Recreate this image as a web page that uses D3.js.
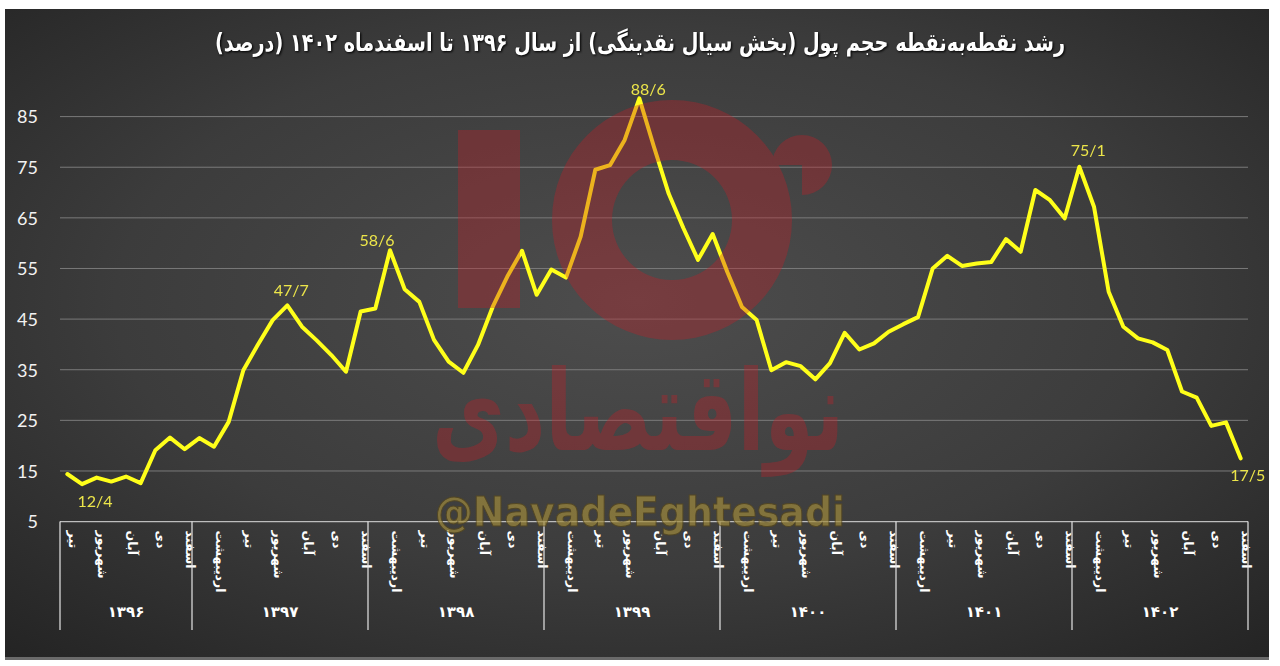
<!DOCTYPE html>
<html>
<head>
<meta charset="utf-8">
<script src="https://cdn.jsdelivr.net/npm/d3@7"></script>
<style>
  html, body { margin: 0; padding: 0; background: #ffffff; }
  svg { display: block; }
</style>
</head>
<body>
<svg id="chart" width="1280" height="666"></svg>
<script>
// ---------- DATA ----------
const title = "رشد نقطه‌به‌نقطه حجم پول (بخش سیال نقدینگی) از سال ۱۳۹۶ تا اسفندماه ۱۴۰۲ (درصد)";
const monthNames = ["فروردین","اردیبهشت","خرداد","تیر","مرداد","شهریور","مهر","آبان","آذر","دی","بهمن","اسفند"];
const years = ["۱۳۹۶","۱۳۹۷","۱۳۹۸","۱۳۹۹","۱۴۰۰","۱۴۰۱","۱۴۰۲"];
const firstMonth = 3; // series starts at تیر ۱۳۹۶
const values = [
  14.4, 12.4, 13.7, 12.9, 13.9, 12.6, 19.1, 21.6, 19.3,
  21.5, 19.8, 24.7, 34.9, 40.0, 44.8, 47.7, 43.5, 40.8, 37.9, 34.6, 46.5,
  47.1, 58.6, 50.9, 48.4, 40.9, 36.6, 34.4, 39.9, 47.4, 53.4, 58.5, 49.8,
  54.8, 53.2, 61.3, 74.5, 75.4, 80.4, 88.6, 79.0, 69.8, 63.0, 56.7, 61.8,
  54.3, 47.4, 44.8, 34.9, 36.5, 35.7, 33.1, 36.3, 42.3, 39.0, 40.2, 42.5,
  44.0, 45.4, 55.0, 57.5, 55.5, 56.0, 56.3, 60.8, 58.3, 70.5, 68.5, 64.9,
  75.1, 67.2, 50.4, 43.5, 41.2, 40.4, 38.9, 30.7, 29.5, 23.9, 24.6, 17.5
];
const yTicks = [5, 15, 25, 35, 45, 55, 65, 75, 85];
const labelIdx = [1, 15, 22, 39, 69, 80];
const labelText = ["12/4", "47/7", "58/6", "88/6", "75/1", "17/5"];

// ---------- BUILD CATEGORIES ----------
const categories = [];
years.forEach((yr, yi) => {
  const start = yi === 0 ? firstMonth : 0;
  for (let m = start; m < 12; m++) categories.push({ year: yr, month: monthNames[m] });
});
const data = categories.map((c, i) => ({ ...c, i, v: values[i] }));

// ---------- SCALES ----------
const svg = d3.select("#chart");
const W = 1280, H = 666;
const plot = { left: 60, right: 1248, top: 116.6, bottom: 521.6 };

const x = d3.scaleBand().domain(d3.range(data.length)).range([plot.left, plot.right]).padding(0);
const cx = i => x(i) + x.bandwidth() / 2;
const y = d3.scaleLinear().domain([5, 85]).range([plot.bottom, plot.top]);

// ---------- BACKGROUND ----------
const defs = svg.append("defs");
const rg = defs.append("radialGradient").attr("id", "bg")
  .attr("cx", "50%").attr("cy", "45%").attr("r", "75%");
rg.append("stop").attr("offset", "0%").attr("stop-color", "#4d4d4d");
rg.append("stop").attr("offset", "55%").attr("stop-color", "#3c3c3c");
rg.append("stop").attr("offset", "100%").attr("stop-color", "#232323");

svg.append("rect").attr("x", 0).attr("y", 0).attr("width", W).attr("height", H).attr("fill", "#ffffff");
svg.append("rect").attr("x", 5).attr("y", 9).attr("width", 1264).attr("height", 650).attr("fill", "url(#bg)");
svg.append("rect").attr("x", 5).attr("y", 657).attr("width", 1264).attr("height", 3).attr("fill", "#6a6a6a");

// ---------- GRIDLINES + Y AXIS ----------
const yAxis = d3.axisLeft(y).tickValues(yTicks).tickSize(0).tickPadding(0);
const gy = svg.append("g").attr("transform", `translate(38,0)`).call(yAxis);
gy.select(".domain").remove();
gy.selectAll("text")
  .attr("font-family", "Lato, 'Open Sans', sans-serif")
  .attr("font-size", 18).attr("fill", "#f2f2f2").attr("dy", "0.35em");

svg.append("g").selectAll("line")
  .data(yTicks.filter(t => t > 5))
  .join("line")
  .attr("x1", plot.left).attr("x2", plot.right)
  .attr("y1", d => y(d)).attr("y2", d => y(d))
  .attr("stroke", "#7a7a7a").attr("stroke-width", 1);

// ---------- X AXIS ----------
svg.append("line")
  .attr("x1", plot.left).attr("x2", plot.right)
  .attr("y1", plot.bottom).attr("y2", plot.bottom)
  .attr("stroke", "#bdbdbd").attr("stroke-width", 1.2);

const xAxis = d3.axisBottom(x)
  .tickValues(d3.range(data.length).filter(i => i % 2 === 0))
  .tickSize(0)
  .tickFormat(i => data[i].month);
const gx = svg.append("g").attr("transform", `translate(0,${plot.bottom})`).call(xAxis);
gx.select(".domain").remove();
gx.selectAll(".tick text")
  .attr("transform", "translate(6,9) rotate(90)")
  .attr("x", 0).attr("y", 0).attr("dy", "0.35em")
  .attr("text-anchor", "start")
  .attr("font-family", "DejaVu Sans").attr("font-weight", "bold")
  .attr("font-size", 12.5).attr("fill", "#ffffff");

// year groups
const groups = d3.groups(data, d => d.year).map(([yr, arr]) => ({
  year: yr, start: arr[0].i, end: arr[arr.length - 1].i
}));
const sepX = [x(0)].concat(groups.map(g => x(g.end) + x.bandwidth()));
svg.append("g").selectAll("line")
  .data(sepX).join("line")
  .attr("x1", d => d).attr("x2", d => d)
  .attr("y1", plot.bottom).attr("y2", 630)
  .attr("stroke", "#e6e6e6").attr("stroke-width", 1.2);
svg.append("g").selectAll("text")
  .data(groups).join("text")
  .attr("x", g => (x(g.start) + x(g.end) + x.bandwidth()) / 2)
  .attr("y", 612).attr("dy", "0.35em")
  .attr("text-anchor", "middle")
  .attr("font-family", "DejaVu Sans").attr("font-weight", "bold")
  .attr("font-size", 15).attr("fill", "#ffffff")
  .text(g => g.year);

// ---------- LINE ----------
const line = d3.line().x(d => cx(d.i)).y(d => y(d.v)).curve(d3.curveLinear);
svg.append("path").datum(data)
  .attr("d", line)
  .attr("fill", "none").attr("stroke", "#ffff1a")
  .attr("stroke-width", 4).attr("stroke-linejoin", "round").attr("stroke-linecap", "round");

// ---------- WATERMARK (semi-transparent, over the line) ----------
const wm = svg.append("g").attr("opacity", 0.34).attr("fill", "#c81e28");
wm.append("rect").attr("x", 458).attr("y", 130).attr("width", 62).attr("height", 178);
wm.append("path")
  .attr("d", d3.arc()({ innerRadius: 60, outerRadius: 120, startAngle: 0, endAngle: 2 * Math.PI }))
  .attr("transform", "translate(672,220)");
wm.append("path")
  .attr("d", d3.arc()({ innerRadius: 0, outerRadius: 30, startAngle: -Math.PI / 2, endAngle: Math.PI }))
  .attr("transform", "translate(802,165)");
wm.append("text").attr("x", 638).attr("y", 450)
  .attr("text-anchor", "middle")
  .attr("font-family", "DejaVu Sans").attr("font-weight", "bold")
  .attr("font-size", 112)
  .attr("textLength", 412).attr("lengthAdjust", "spacingAndGlyphs")
  .text("نواقتصادی");

// ---------- DATA LABELS ----------
const labelOffsets = [[13, 17], [4, -15], [-13, -10], [9, -9], [9, -16], [7, 17]];
svg.append("g").selectAll("text")
  .data(labelIdx.map((idx, k) => ({ idx, t: labelText[k], o: labelOffsets[k] })))
  .join("text")
  .attr("x", d => cx(d.idx) + d.o[0])
  .attr("y", d => y(values[d.idx]) + d.o[1])
  .attr("dy", "0.35em")
  .attr("text-anchor", "middle")
  .attr("font-family", "Lato, 'Open Sans', sans-serif")
  .attr("font-size", 16).attr("fill", "#ece54a")
  .text(d => d.t);

// ---------- HANDLE WATERMARK ----------
svg.append("text").attr("x", 640).attr("y", 526)
  .attr("text-anchor", "middle")
  .attr("font-family", "'DejaVu Sans', sans-serif").attr("font-weight", "bold")
  .attr("font-size", 40).attr("fill", "#a08a3c").attr("opacity", 0.7)
  .attr("stroke", "#5a4a1a").attr("stroke-width", 1)
  .attr("textLength", 410).attr("lengthAdjust", "spacingAndGlyphs")
  .text("@NavadeEghtesadi");

// ---------- TITLE ----------
svg.append("text").attr("x", 640).attr("y", 51)
  .attr("text-anchor", "middle")
  .attr("font-family", "DejaVu Sans").attr("font-weight", "bold")
  .attr("font-size", 25).attr("fill", "#ffffff")
  .attr("textLength", 850).attr("lengthAdjust", "spacingAndGlyphs")
  .style("filter", "drop-shadow(1px 1px 1px #000)")
  .text(title);
</script>
</body>
</html>
